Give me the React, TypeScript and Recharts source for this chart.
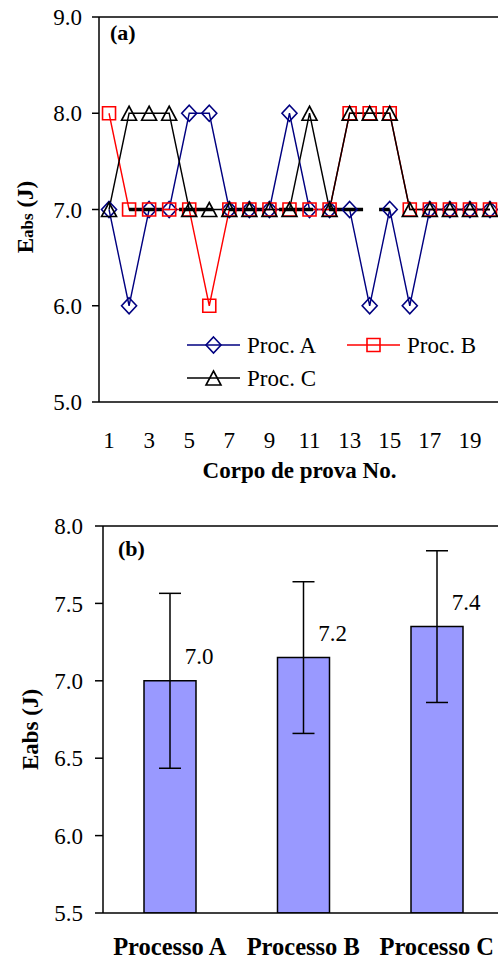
import { Bar, BarChart, ErrorBar, LabelList, Line, LineChart, ReferenceLine, XAxis, YAxis } from "recharts";

// (a) impact energy per specimen
const specimens = [1, 2, 3, 4, 5, 6, 7, 8, 9, 10, 11, 12, 13, 14, 15, 16, 17, 18, 19, 20];
const procA = [7, 6, 7, 7, 8, 8, 7, 7, 7, 8, 7, 7, 7, 6, 7, 6, 7, 7, 7, 7];
const procB = [8, 7, 7, 7, 7, 6, 7, 7, 7, 7, 7, 7, 8, 8, 8, 7, 7, 7, 7, 7];
const procC = [7, 8, 8, 8, 7, 7, 7, 7, 7, 7, 8, 7, 8, 8, 8, 7, 7, 7, 7, 7];
const specimenTicks = [1, 3, 5, 7, 9, 11, 13, 15, 17, 19];
const energyTicks = [5, 6, 7, 8, 9];
const seriesNames = ["Proc. A", "Proc. B", "Proc. C"];

// (b) mean per process
const processes = ["Processo A", "Processo B", "Processo C"];
const means = [7.0, 7.15, 7.35];
const stdDevs = [0.565, 0.49, 0.49];
const meanLabels = ["7.0", "7.2", "7.4"];
const meanTicks = [5.5, 6, 6.5, 7, 7.5, 8];

const serif = '"Liberation Serif", "Times New Roman", serif';
const colors = ["#000080", "#ff0000", "#000000"];
const shapes = ["diamond", "square", "triangle"];

const lineRows = specimens.map((n, i) => ({ n, a: procA[i], b: procB[i], c: procC[i] }));
const barRows = processes.map((name, i) => ({ name, mean: means[i], err: stdDevs[i], label: meanLabels[i] }));
const boundaries = [0, ...specimens].map((n) => n + 0.5);

function marker(shape: string, cx: number, cy: number, color: string, key?: string) {
  let d = "";
  if (shape === "diamond") d = `M${cx},${cy - 8}L${cx + 7.5},${cy}L${cx},${cy + 8}L${cx - 7.5},${cy}Z`;
  else if (shape === "square") d = `M${cx - 6.5},${cy - 6.5}h13v13h-13Z`;
  else d = `M${cx},${cy - 7}L${cx + 7.5},${cy + 7}L${cx - 7.5},${cy + 7}Z`;
  return <path key={key} d={d} fill="none" stroke={color} strokeWidth={1.6} />;
}

const dotFor = (shape: string, color: string) => (p: any) =>
  marker(shape, p.cx, p.cy, color, `${shape}-${p.index}`);

const axisStroke = { stroke: "#000", strokeWidth: 1.5 };
const tickFont = { fill: "#000", fontSize: 23, fontFamily: serif };

function yTitle(cx: number, dy: number, subSize: number) {
  return (props: any) => {
    const vb = props.viewBox;
    const cy = vb.y + vb.height / 2 + dy;
    return (
      <text
        x={cx}
        y={cy}
        transform={`rotate(-90 ${cx} ${cy})`}
        textAnchor="middle"
        fontFamily={serif}
        fontWeight="bold"
        fontSize={23}
        fill="#000"
      >
        E<tspan fontSize={subSize}>abs</tspan> (J)
      </text>
    );
  };
}

function MeanLabel(props: any) {
  const x = Number(props.x) + Number(props.width) / 2 + 29;
  const y = Number(props.y) - 24;
  return (
    <text x={x} y={y} textAnchor="middle" dominantBaseline="central" fontFamily={serif} fontSize={23} fill="#000">
      {props.value}
    </text>
  );
}

const legendPos = [
  { x: 187, y: 345 },
  { x: 347, y: 345 },
  { x: 187, y: 378 },
];

export default function App() {
  return (
    <div style={{ position: "absolute", left: 0, top: 0, width: 498, height: 961, overflow: "hidden", background: "#fff" }}>
      <div style={{ position: "absolute", left: 0, top: 0 }}>
        <LineChart width={510} height={490} data={lineRows} margin={{ top: 17, right: 10, bottom: 0, left: 0 }}>
          <XAxis
            xAxisId={0}
            dataKey="n"
            type="number"
            domain={[0.5, 20.5]}
            ticks={boundaries}
            interval={0}
            allowDataOverflow
            tick={false}
            height={8}
            tickSize={7}
            axisLine={axisStroke}
            tickLine={axisStroke}
          />
          <XAxis
            xAxisId={1}
            dataKey="n"
            type="number"
            domain={[0.5, 20.5]}
            ticks={specimenTicks}
            interval={0}
            allowDataOverflow
            axisLine={false}
            tickLine={false}
            tickSize={0}
            tickMargin={22}
            height={80}
            tick={tickFont}
            label={{
              value: "Corpo de prova No.",
              position: "insideBottom",
              offset: 12,
              fontFamily: serif,
              fontWeight: "bold",
              fontSize: 23,
              fill: "#000",
            }}
          />
          <YAxis
            domain={[5, 9]}
            ticks={energyTicks}
            interval={0}
            allowDataOverflow
            tickFormatter={(v: number) => v.toFixed(1)}
            width={99}
            tickSize={7}
            tickMargin={10}
            axisLine={axisStroke}
            tickLine={axisStroke}
            tick={tickFont}
            label={yTitle(33, 7.5, 17)}
          />
          <ReferenceLine y={9} stroke="#000" strokeWidth={1.5} />
          <Line dataKey="a" stroke={colors[0]} strokeWidth={1.4} dot={dotFor(shapes[0], colors[0])} activeDot={false} isAnimationActive={false} />
          <Line dataKey="b" stroke={colors[1]} strokeWidth={1.4} dot={dotFor(shapes[1], colors[1])} activeDot={false} isAnimationActive={false} />
          <Line dataKey="c" stroke={colors[2]} strokeWidth={1.4} dot={dotFor(shapes[2], colors[2])} activeDot={false} isAnimationActive={false} />
          <ReferenceLine
            segment={[{ x: 2, y: 7 }, { x: 15, y: 7 }]}
            stroke="#000"
            strokeWidth={3.5}
            strokeDasharray="34 16"
          />
        </LineChart>
      </div>

      <div style={{ position: "absolute", left: 0, top: 490 }}>
        <BarChart width={510} height={471} data={barRows} margin={{ top: 36, right: 6.5, bottom: 0, left: 0 }} barSize={52}>
          <XAxis
            xAxisId={0}
            type="number"
            domain={[0, 3]}
            ticks={[0, 1, 2, 3]}
            interval={0}
            allowDataOverflow
            tick={false}
            height={8}
            tickSize={8}
            axisLine={axisStroke}
            tickLine={axisStroke}
          />
          <XAxis
            xAxisId={1}
            dataKey="name"
            interval={0}
            axisLine={false}
            tickLine={false}
            tickSize={0}
            tickMargin={17}
            height={40}
            tick={{ ...tickFont, fontSize: 24.5, fontWeight: "bold" }}
          />
          <YAxis
            domain={[5.5, 8]}
            ticks={meanTicks}
            interval={0}
            allowDataOverflow
            tickFormatter={(v: number) => v.toFixed(1)}
            width={103}
            tickSize={8}
            tickMargin={12}
            axisLine={axisStroke}
            tickLine={axisStroke}
            tick={tickFont}
            label={yTitle(38, 10, 23)}
          />
          <ReferenceLine y={8} stroke="#000" strokeWidth={1.5} />
          <Bar xAxisId={1} dataKey="mean" fill="#9999ff" stroke="#000" strokeWidth={1.5} isAnimationActive={false}>
            <ErrorBar dataKey="err" width={11} stroke="#000" strokeWidth={1.5} direction="y" />
            <LabelList dataKey="label" content={MeanLabel} />
          </Bar>
        </BarChart>
      </div>

      <svg width={498} height={961} style={{ position: "absolute", left: 0, top: 0, pointerEvents: "none" }}>
        <text x={110} y={40} fontFamily={serif} fontWeight="bold" fontSize={22} fill="#000">(a)</text>
        <text x={118} y={556} fontFamily={serif} fontWeight="bold" fontSize={22} fill="#000">(b)</text>
        {seriesNames.map((name, i) => {
          const p = legendPos[i];
          return (
            <g key={name}>
              <line x1={p.x} x2={p.x + 53} y1={p.y} y2={p.y} stroke={colors[i]} strokeWidth={1.4} />
              {marker(shapes[i], p.x + 26.5, p.y, colors[i])}
              <text x={p.x + 60} y={p.y + 8} fontFamily={serif} fontSize={23} fill="#000">{name}</text>
            </g>
          );
        })}
      </svg>
    </div>
  );
}
